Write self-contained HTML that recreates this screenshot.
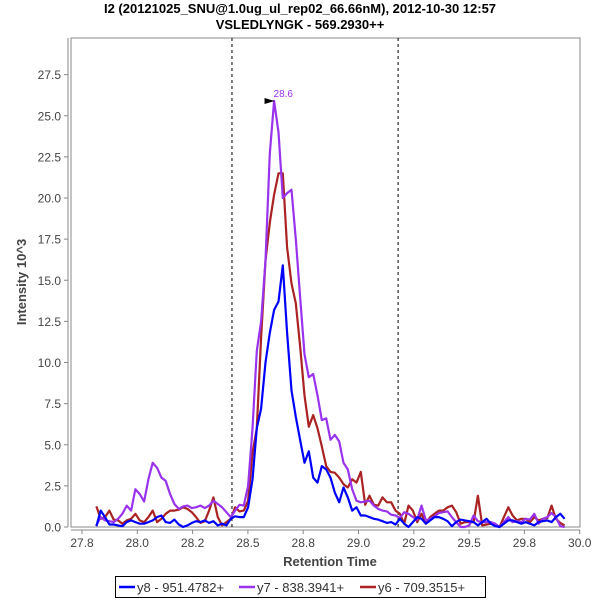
<!DOCTYPE html>
<html><head><meta charset="utf-8">
<style>
body{margin:0;background:#fff;}
svg{display:block;font-family:"Liberation Sans","DejaVu Sans",sans-serif;}
</style></head>
<body>
<svg id="chart" width="600" height="600" viewBox="0 0 600 600">
<text x="300" y="13" text-anchor="middle" font-size="13" font-weight="bold" fill="#000">I2 (20121025_SNU@1.0ug_ul_rep02_66.66nM), 2012-10-30 12:57</text>
<text x="300" y="29" text-anchor="middle" font-size="13" font-weight="bold" fill="#000">VSLEDLYNGK - 569.2930++</text>
<rect x="71" y="38" width="509" height="489" fill="#fff" stroke="#888" stroke-width="1"/>
<line x1="68" y1="38" x2="68" y2="527" stroke="#888"/>
<line x1="71" y1="530" x2="580" y2="530" stroke="#888"/>
<g id="yticks"></g><g id="xticks"></g><g id="markers"></g><g id="series"></g>
<text transform="translate(26,282) rotate(-90)" text-anchor="middle" font-size="13" font-weight="bold" fill="#444">Intensity 10^3</text>
<text x="330" y="566" text-anchor="middle" font-size="13" font-weight="bold" fill="#444">Retention Time</text>
<g>
<rect x="115.5" y="576.5" width="370" height="21" fill="#fff" stroke="#000"/>
<g><line x1="119" y1="587" x2="135" y2="587" stroke="#0000ff" stroke-width="2.5"/><text x="137" y="592" font-size="13" fill="#333">y8 - 951.4782+</text></g>
<g><line x1="239" y1="587" x2="255" y2="587" stroke="#9933ee" stroke-width="2.5"/><text x="257" y="592" font-size="13" fill="#333">y7 - 838.3941+</text></g>
<g><line x1="360" y1="587" x2="376" y2="587" stroke="#aa2222" stroke-width="2.5"/><text x="378" y="592" font-size="13" fill="#333">y6 - 709.3515+</text></g>
</g>
</svg>
<script>
const t0 = 27.815;
const tStep = 0.0196;
const y8Values = [0.05,1.0,0.6,0.15,0.15,0.1,0.05,0.3,0.4,0.3,0.2,0.2,0.3,0.4,0.6,0.7,0.3,0.25,0.45,0.15,0.0,0.1,0.25,0.35,0.3,0.4,0.25,0.35,0.1,0.2,0.1,0.5,0.65,0.6,0.6,1.2,2.9,6.0,7.2,10.0,11.8,13.2,13.7,15.9,11.8,8.3,6.7,5.3,3.9,4.6,3.0,2.7,3.7,3.5,3.0,2.1,1.5,2.4,1.8,1.0,1.2,0.7,0.7,0.6,0.5,0.45,0.35,0.25,0.3,0.15,0.5,0.2,0.0,0.3,0.6,0.5,0.2,0.4,0.6,0.6,0.5,0.35,0.05,0.3,0.45,0.4,0.35,0.3,0.1,0.3,0.5,0.2,0.05,0.0,0.2,0.4,0.4,0.3,0.2,0.3,0.2,0.1,0.3,0.35,0.4,0.3,0.6,0.8,0.5];
const y7Values = [0.1,0.6,0.4,0.35,0.3,0.5,0.8,1.3,1.0,2.3,2.0,1.55,2.9,3.9,3.6,3.0,2.8,2.0,1.4,1.1,1.25,1.3,1.15,1.2,1.3,1.15,1.3,1.6,1.4,1.2,0.9,0.6,1.0,1.35,1.3,2.5,6.0,10.7,12.5,16.2,22.7,25.9,24.0,20.0,20.3,20.5,17.5,14.0,10.5,9.1,9.3,8.0,6.5,6.6,5.3,5.6,5.2,3.9,3.5,2.3,1.6,1.5,1.55,1.6,1.3,1.1,1.0,0.95,0.75,0.7,0.55,0.9,0.8,0.6,0.45,1.3,0.4,0.5,0.65,0.85,0.9,0.95,0.6,0.3,0.0,0.0,0.1,0.7,0.35,0.3,0.3,0.3,0.2,0.0,0.3,0.6,0.3,0.35,0.3,0.5,0.45,0.8,0.2,0.5,0.6,0.85,0.6,0.05,0.0];
const y6Values = [1.25,0.5,0.6,1.0,0.45,0.4,0.2,0.4,0.5,0.8,0.4,0.3,0.6,1.0,0.3,0.5,0.8,1.0,1.0,1.05,1.2,1.1,0.9,0.6,0.25,0.35,1.0,1.8,0.6,0.1,0.3,0.5,1.2,0.95,1.0,1.6,4.5,6.0,11.5,16.2,18.5,20.2,21.5,21.5,17.0,14.8,13.6,11.0,8.0,6.1,6.8,6.0,4.9,3.7,3.35,3.3,3.0,2.6,2.4,2.9,2.7,3.35,1.35,1.9,1.35,1.3,1.8,1.5,1.5,1.0,0.8,0.2,1.3,1.0,0.3,0.8,0.2,0.6,0.8,1.0,1.0,1.2,1.3,0.9,0.2,0.3,0.3,0.3,1.9,0.1,0.15,0.2,0.15,0.0,0.6,1.2,0.7,0.4,0.5,0.5,0.3,0.6,0.4,0.5,0.55,1.3,0.5,0.25,0.1];
const yTickValues = [0,2.5,5,7.5,10,12.5,15,17.5,20,22.5,25,27.5];
const yTickLabels = ["0.0","2.5","5.0","7.5","10.0","12.5","15.0","17.5","20.0","22.5","25.0","27.5"];
const xTickValues = [27.75,28.0,28.25,28.5,28.75,29.0,29.25,29.5,29.75,30.0];
const xTickLabels = ["27.8","28.0","28.2","28.5","28.8","29.0","29.2","29.5","29.8","30.0"];
const boundaryTimes = [28.428,29.179];
const peakTime = 28.634;
const peakValue = 25.9;
const peakLabel = "28.6";

const NS="http://www.w3.org/2000/svg";
function sx(t){return 82+(t-27.75)*221.2;}
function sy(v){return 527-v*16.45;}
function mk(tag,attrs,parent){const e=document.createElementNS(NS,tag);for(const k in attrs)e.setAttribute(k,attrs[k]);parent.appendChild(e);return e;}

const yg=document.getElementById('yticks');
yTickValues.forEach((v,i)=>{
  const l=mk('line',{x1:64,x2:68,y1:sy(v),y2:sy(v),stroke:'#888'},yg);
  
  
  const tx=mk('text',{x:61,y:sy(v)+4.5,'text-anchor':'end','font-size':12,fill:'#444'},yg);
  tx.textContent=yTickLabels[i];
  
  
});
const xg=document.getElementById('xticks');
xTickValues.forEach((v,i)=>{
  const l=mk('line',{x1:sx(v),x2:sx(v),y1:530,y2:534,stroke:'#888'},xg);
  
  
  const tx=mk('text',{x:sx(v),y:547,'text-anchor':'middle','font-size':12,fill:'#444'},xg);
  tx.textContent=xTickLabels[i];
  
  
});
const mg=document.getElementById('markers');
boundaryTimes.forEach(t=>{
  const l=mk('line',{x1:sx(t),x2:sx(t),y1:38,y2:527,stroke:'#000','stroke-dasharray':'3,3','stroke-width':1},mg);
  
  
});
const sg=document.getElementById('series');
function drawSeries(vals,color,name){
  const pts=vals.map((v,i)=>sx(t0+i*tStep).toFixed(1)+','+sy(v).toFixed(1)).join(' ');
  const p=mk('polyline',{points:pts,fill:'none',stroke:color,'stroke-width':2.2,'stroke-linejoin':'round'},sg);
  
  
}
drawSeries(y6Values,'#aa2222','series-y6');
drawSeries(y7Values,'#9933ee','series-y7');
drawSeries(y8Values,'#0000ff','series-y8');
const px=sx(peakTime), py=sy(peakValue);
const ar=mk('polygon',{points:(px-13)+','+(py-3)+' '+(px-3)+','+py+' '+(px-13)+','+(py+3),fill:'#000'},sg);


const pl=mk('text',{x:px-4,y:py-4,'font-size':10,fill:'#9933ee'},sg);
pl.textContent=peakLabel;


</script>
</body></html>
